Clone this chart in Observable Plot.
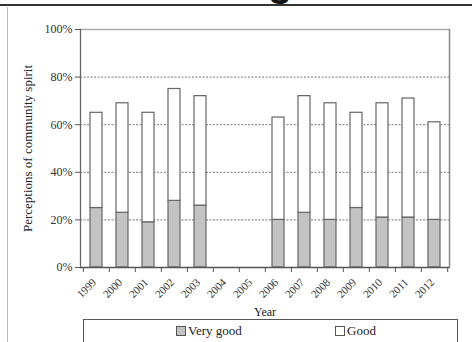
<!DOCTYPE html>
<html><head><meta charset="utf-8">
<script src="https://cdn.jsdelivr.net/npm/d3@7"></script>
<script src="https://cdn.jsdelivr.net/npm/@observablehq/plot@0.6"></script>
<style>
body{margin:0;background:#fff;}
#wrap{position:relative;width:472px;height:342px;overflow:hidden;font-family:"Liberation Serif","Times New Roman",serif;background:#fff;}
#chart{position:absolute;left:0;top:0;}
#chart svg{background:transparent !important;}
#topline{position:absolute;left:0;top:4px;width:472px;height:0;border-top:2px solid #333;}
#glyph{position:absolute;left:268px;top:-38px;font:bold 40px/40px "Liberation Sans",Arial,sans-serif;color:#111;}
#leftline{position:absolute;left:7px;top:7px;width:0;height:340px;border-left:1px solid #bbb;}
#legend{position:absolute;left:83px;top:319px;width:375px;height:40px;border:1px solid #555;box-sizing:border-box;background:#fff;}
.item{position:absolute;top:3px;font-size:13px;line-height:16px;color:#222;display:flex;align-items:center;}
.sw{display:inline-block;width:8px;height:8px;border:1px solid #555;margin-right:2px;}
</style></head><body>
<div id="wrap">
  <div id="chart"></div>
  <div id="glyph">g</div>
  <div id="topline"></div>
  <div id="leftline"></div>
  <div id="legend"></div>
</div>
<script>
const years = ["1999","2000","2001","2002","2003","2004","2005","2006","2007","2008","2009","2010","2011","2012"];
const veryGood = [25, 23, 19, 28, 26, null, null, 20, 23, 20, 25, 21, 21, 20];
const good     = [40, 46, 46, 47, 46, null, null, 43, 49, 49, 40, 48, 50, 41];
const seriesNames = ["Very good", "Good"];
const seriesColors = ["#c3c3c3", "#ffffff"];
const yTicks = [0, 20, 40, 60, 80, 100];
const gridValues = [20, 40, 60, 80];

const rows = years.flatMap((y, i) => veryGood[i] == null ? [] : [
  {year: y, series: seriesNames[0], value: veryGood[i]},
  {year: y, series: seriesNames[1], value: good[i]}
]);

const W = 472, H = 318, mL = 80, mR = 23, mT = 29, mB = 51;
const step = (W - mL - mR) / years.length;

const chart = Plot.plot({
  width: W, height: H,
  marginLeft: mL, marginRight: mR, marginTop: mT, marginBottom: mB,
  style: {fontFamily: '"Liberation Serif","Times New Roman",serif', fontSize: "11px", color: "#333", background: "transparent"},
  x: {domain: years, paddingInner: 0.55, paddingOuter: 0.275, label: null, axis: null},
  y: {domain: [0, 100], label: null},
  color: {domain: seriesNames, range: seriesColors},
  marks: [
    Plot.ruleY(gridValues, {stroke: "#777", strokeDasharray: "2,1.5", strokeWidth: 1}),
    Plot.ruleY([100], {stroke: "#aaa", strokeWidth: 1.5}),
    Plot.frame({anchor: "right", stroke: "#888", strokeWidth: 1.5}),
    Plot.barY(rows, Plot.stackY({x: "year", y: "value", fill: "series", order: seriesNames, stroke: "#666", strokeWidth: 1.2})),
    Plot.frame({anchor: "left", stroke: "#666", strokeWidth: 1.3}),
    Plot.ruleY([0], {stroke: "#555", strokeWidth: 1.3}),
    Plot.ruleX(years, {x: d => d, y1: 0, y2: 0, insetBottom: -5, dx: -step / 2, stroke: "#555"}),
    Plot.ruleX(years.slice(-1), {x: d => d, y1: 0, y2: 0, insetBottom: -5, dx: step / 2, stroke: "#555"}),
    Plot.axisY({ticks: yTicks, tickFormat: d => d + "%", tickSize: 5, tickPadding: 3, label: null, fontSize: 12, stroke: "#555"}),
    Plot.text(years, {x: d => d, frameAnchor: "bottom", dy: 13, dx: -2, rotate: -45, textAnchor: "end", lineAnchor: "middle", fontSize: 11, fill: "#333"}),
    Plot.text(["Perceptions of community spirit"], {frameAnchor: "left", rotate: -90, dx: -53, textAnchor: "middle", fontSize: 13, fill: "#222"}),
    Plot.text(["Year"], {frameAnchor: "bottom", dy: 48, fontSize: 12, fill: "#222"})
  ]
});
document.getElementById("chart").appendChild(chart);

const lefts = [92, 251];
const legend = document.getElementById("legend");
seriesNames.forEach((name, i) => {
  const it = document.createElement("div");
  it.className = "item";
  it.style.left = lefts[i] + "px";
  const sw = document.createElement("span");
  sw.className = "sw";
  sw.style.background = seriesColors[i];
  it.appendChild(sw);
  it.appendChild(document.createTextNode(name));
  legend.appendChild(it);
});
</script>
</body></html>
